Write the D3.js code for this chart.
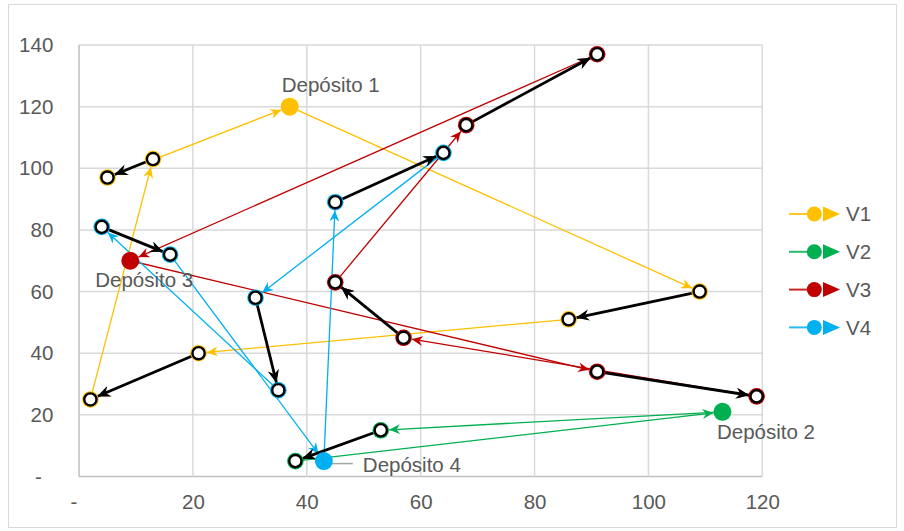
<!DOCTYPE html>
<html>
<head>
<meta charset="utf-8">
<script src="https://cdn.jsdelivr.net/npm/d3@7/dist/d3.min.js"></script>
<style>
  html, body { margin: 0; padding: 0; background: #fff; }
  svg { display: block; }
  text { font-family: "Liberation Sans", Arial, sans-serif; fill: #595959; }
</style>
</head>
<body>
<svg id="chart" width="904" height="531"></svg>
<script>
// Vehicles and colours
const vehicles = ["V1", "V2", "V3", "V4"];
const colors = ["#FFC000", "#00B050", "#C00000", "#00B0F0"];

// Depots (one per vehicle)
const depotNames = ["Depósito 1", "Depósito 2", "Depósito 3", "Depósito 4"];
const depotX = [37, 113, 9, 43];
const depotY = [120, 21, 70, 5];

// Routes: depot -> (pickup -> delivery) x n -> depot
const routeV1 = [[37, 120], [109, 60], [86, 51], [21, 40], [2, 25], [13, 103], [5, 97], [37, 120]];
const routeV2 = [[113, 21], [53, 15], [38, 5], [113, 21]];
const routeV3 = [[9, 70], [91, 34], [119, 26], [57, 45], [45, 63], [68, 114], [91, 137], [9, 70]];
const routeV4 = [[43, 5], [45, 89], [64, 105], [31, 58], [35, 28], [4, 81], [16, 72], [43, 5]];
const routes = [routeV1, routeV2, routeV3, routeV4];

// Axis ticks
const xTicks = [0, 20, 40, 60, 80, 100, 120];
const yTicks = [0, 20, 40, 60, 80, 100, 120, 140];

const svg = d3.select("#chart");
const W = 904, H = 531;
const plot = { left: 79, right: 762.3, top: 45, bottom: 476.5 };

const x = d3.scaleLinear().domain([0, 120]).range([plot.left, plot.right]);
const y = d3.scaleLinear().domain([0, 140]).range([plot.bottom, plot.top]);

const fmt = v => v === 0 ? "-" : String(v);

// chart frame
svg.append("rect")
  .attr("x", 8.5).attr("y", 4.5).attr("width", W - 16).attr("height", H - 8)
  .attr("fill", "#fff").attr("stroke", "#D9D9D9").attr("stroke-width", 1);

// gridlines
const grid = svg.append("g");
grid.selectAll("line.h").data(yTicks).join("line")
  .attr("x1", plot.left).attr("x2", plot.right)
  .attr("y1", d => y(d)).attr("y2", d => y(d))
  .attr("stroke", d => d === 0 ? "#BFBFBF" : "#D9D9D9").attr("stroke-width", 1.5);
grid.selectAll("line.v").data(xTicks).join("line")
  .attr("y1", plot.top).attr("y2", plot.bottom)
  .attr("x1", d => x(d)).attr("x2", d => x(d))
  .attr("stroke", d => d === 0 ? "#BFBFBF" : "#D9D9D9").attr("stroke-width", 1.5);

// axes (labels only)
const yAxis = svg.append("g")
  .attr("transform", `translate(${plot.left - 25.7},0)`)
  .call(d3.axisLeft(y).tickValues(yTicks).tickFormat(fmt).tickSize(0).tickPadding(0));
yAxis.select(".domain").remove();
yAxis.selectAll("text")
  .attr("font-size", 20.5).attr("fill", "#595959")
  .attr("font-family", "Liberation Sans, Arial, sans-serif")
  .attr("dx", d => d === 0 ? -11.6 : 0);

const xAxis = svg.append("g")
  .attr("transform", `translate(0,${plot.bottom + 18})`)
  .call(d3.axisBottom(x).tickValues(xTicks).tickFormat(fmt).tickSize(0).tickPadding(0));
xAxis.select(".domain").remove();
xAxis.selectAll("text")
  .attr("font-size", 20.5).attr("fill", "#595959")
  .attr("font-family", "Liberation Sans, Arial, sans-serif")
  .attr("dx", d => d === 0 ? -5.7 : 0);

// arrowhead markers (stealth style)
const defs = svg.append("defs");
function stealth(id, color, len, wid) {
  defs.append("marker")
    .attr("id", id)
    .attr("markerUnits", "userSpaceOnUse")
    .attr("viewBox", `${-len} ${-wid / 2} ${len + 1} ${wid}`)
    .attr("refX", 0).attr("refY", 0)
    .attr("markerWidth", len + 1).attr("markerHeight", wid)
    .attr("orient", "auto")
    .append("path")
    .attr("d", `M0,0 L${-len},${-wid / 2} L${-len * 0.68},0 L${-len},${wid / 2} Z`)
    .attr("fill", color);
}
colors.forEach((c, i) => stealth("arr" + i, c, 11, 10));
stealth("arrK", "#000", 13.5, 11.5);

const R_CUST = 8.3, R_DEPOT = 9;

// segment shortened so the arrow tip touches the target marker edge
function seg(p, q, rEnd) {
  const x1 = x(p[0]), y1 = y(p[1]), x2 = x(q[0]), y2 = y(q[1]);
  const dx = x2 - x1, dy = y2 - y1, L = Math.hypot(dx, dy);
  return { x1, y1, x2: x2 - dx / L * rEnd, y2: y2 - dy / L * rEnd };
}

// vehicle route lines
const routeG = svg.append("g");
routes.forEach((r, vi) => {
  const segs = d3.range(r.length - 1).map(k => {
    const last = k + 1 === r.length - 1;
    return seg(r[k], r[k + 1], last ? R_DEPOT : R_CUST);
  });
  routeG.selectAll(null).data(segs).join("line")
    .attr("x1", d => d.x1).attr("y1", d => d.y1)
    .attr("x2", d => d.x2).attr("y2", d => d.y2)
    .attr("stroke", colors[vi]).attr("stroke-width", 1.3)
    .attr("marker-end", `url(#arr${vi})`);
});

// pickup -> delivery pairs (thick black arrows)
const pairG = svg.append("g");
routes.forEach(r => {
  const segs = [];
  for (let k = 1; k + 1 < r.length - 1; k += 2) segs.push(seg(r[k], r[k + 1], R_CUST - 1));
  pairG.selectAll(null).data(segs).join("line")
    .attr("x1", d => d.x1).attr("y1", d => d.y1)
    .attr("x2", d => d.x2).attr("y2", d => d.y2)
    .attr("stroke", "#000").attr("stroke-width", 2.8)
    .attr("marker-end", "url(#arrK)");
});

// customer markers
const custG = svg.append("g");
routes.forEach((r, vi) => {
  const pts = r.slice(1, r.length - 1);
  const g = custG.selectAll(null).data(pts).join("g")
    .attr("transform", d => `translate(${x(d[0])},${y(d[1])})`);
  g.append("circle").attr("r", R_CUST).attr("fill", colors[vi]);
  g.append("circle").attr("r", 6.1).attr("fill", "#fff")
    .attr("stroke", "#000").attr("stroke-width", 2.4);
});

// depot label leader line (Depósito 4)
svg.append("line")
  .attr("x1", x(depotX[3])).attr("x2", x(depotX[3]) + 29)
  .attr("y1", y(depotY[3]) + 2.5).attr("y2", y(depotY[3]) + 2.5)
  .attr("stroke", "#A6A6A6").attr("stroke-width", 1.5);

// depot markers
svg.append("g").selectAll("circle").data(depotX).join("circle")
  .attr("cx", (d, i) => x(d)).attr("cy", (d, i) => y(depotY[i]))
  .attr("r", R_DEPOT).attr("fill", (d, i) => colors[i]);

// depot labels
const labelOffset = [[-8, -15], [-5.5, 27.7], [-35, 26], [39, 10.6]];
svg.append("g").selectAll("text").data(depotNames).join("text")
  .attr("x", (d, i) => x(depotX[i]) + labelOffset[i][0])
  .attr("y", (d, i) => y(depotY[i]) + labelOffset[i][1])
  .attr("font-size", 20.5)
  .text(d => d);

// legend
const legend = svg.append("g");
const ly0 = 214, lstep = 37.8;
vehicles.forEach((v, i) => {
  const g = legend.append("g").attr("transform", `translate(0,${ly0 + i * lstep})`);
  g.append("line").attr("x1", 789).attr("x2", 812).attr("y1", 0).attr("y2", 0)
    .attr("stroke", colors[i]).attr("stroke-width", 2).attr("stroke-opacity", 0.85);
  g.append("circle").attr("cx", 814.3).attr("cy", 0).attr("r", 7.5).attr("fill", colors[i]);
  g.append("path").attr("d", "M823,-7.5 L840,0 L823,7.5 Z").attr("fill", colors[i]);
  g.append("text").attr("x", 846).attr("y", 7.4).attr("font-size", 20.5).text(v);
});
</script>
</body>
</html>
